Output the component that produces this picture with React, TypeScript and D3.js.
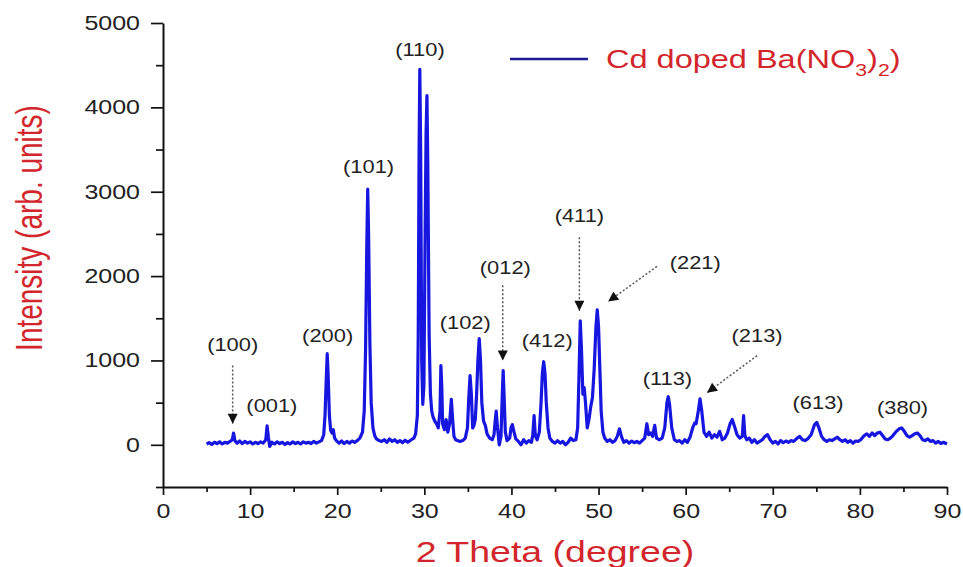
import React, { useEffect, useRef } from 'react';
import * as d3 from 'd3';

// XRD pattern: [2 theta (deg), intensity]
const pattern: [number, number][] = [
  [5.0, 10], [5.3, 25], [5.6, 5], [5.9, 30], [6.2, 15], [6.5, 35], [6.8, 10], [7.1, 30], [7.4, 20], [7.7, 40],
  [7.95, 60], [8.1, 140], [8.25, 50], [8.5, 20], [8.8, 45], [9.1, 15], [9.4, 40], [9.7, 20], [10.0, 35], [10.3, 10],
  [10.6, 30], [10.9, 15], [11.2, 35], [11.5, 20], [11.8, 60], [11.95, 225], [12.1, 90], [12.25, -20], [12.5, 30], [12.8, 10],
  [13.1, 35], [13.4, 15], [13.7, 30], [14.0, 5], [14.3, 25], [14.6, 10], [14.9, 35], [15.2, 15], [15.5, 30], [15.8, 10],
  [16.1, 35], [16.4, 20], [16.7, 30], [17.0, 15], [17.3, 40], [17.6, 20], [17.9, 35], [18.2, 50], [18.45, 120], [18.6, 350],
  [18.75, 800], [18.85, 1080], [18.95, 850], [19.1, 350], [19.25, 170], [19.4, 140], [19.55, 180], [19.7, 80], [19.9, 50], [20.2, 20],
  [20.5, 45], [20.8, 15], [21.1, 40], [21.4, 20], [21.7, 45], [22.0, 30], [22.3, 50], [22.6, 80], [22.9, 150], [23.1, 400],
  [23.25, 1100], [23.4, 2400], [23.5, 3030], [23.6, 2500], [23.75, 1200], [23.9, 500], [24.1, 200], [24.3, 110], [24.5, 70], [24.8, 50],
  [25.1, 40], [25.4, 60], [25.7, 30], [26.0, 70], [26.3, 40], [26.6, 60], [26.9, 30], [27.2, 50], [27.5, 25], [27.8, 55],
  [28.1, 30], [28.5, 60], [28.8, 80], [29.0, 130], [29.2, 350], [29.3, 1300], [29.4, 3500], [29.48, 4450], [29.58, 3500], [29.7, 1000],
  [29.82, 480], [29.95, 700], [30.1, 2600], [30.2, 3700], [30.3, 4140], [30.4, 3300], [30.55, 1300], [30.7, 600], [30.85, 400], [31.0, 330],
  [31.2, 280], [31.4, 250], [31.6, 200], [31.8, 400], [31.9, 940], [32.0, 700], [32.1, 250], [32.3, 180], [32.5, 300], [32.7, 150],
  [32.9, 250], [33.1, 540], [33.25, 300], [33.4, 100], [33.6, 60], [33.8, 50], [34.1, 40], [34.4, 50], [34.7, 80], [34.95, 200],
  [35.1, 550], [35.25, 820], [35.4, 600], [35.55, 200], [35.7, 230], [35.85, 300], [36.0, 600], [36.15, 1000], [36.3, 1260], [36.45, 1000],
  [36.6, 500], [36.8, 280], [37.0, 230], [37.2, 130], [37.5, 80], [37.8, 60], [38.0, 120], [38.15, 300], [38.25, 400], [38.4, 200],
  [38.6, 0], [38.8, 100], [38.95, 600], [39.05, 880], [39.15, 600], [39.3, 150], [39.5, 50], [39.8, 80], [39.95, 200], [40.1, 240],
  [40.3, 150], [40.5, 70], [40.8, 40], [41.1, 0], [41.4, 60], [41.7, 20], [42.0, 50], [42.3, 30], [42.45, 120], [42.6, 345],
  [42.75, 100], [42.95, 60], [43.2, 150], [43.4, 500], [43.55, 850], [43.7, 985], [43.85, 850], [44.0, 500], [44.2, 200], [44.4, 80],
  [44.7, 40], [45.0, 20], [45.3, 50], [45.6, 20], [45.9, 40], [46.2, 0], [46.5, 30], [46.8, 80], [47.1, 50], [47.4, 60],
  [47.6, 200], [47.75, 800], [47.9, 1470], [48.05, 1100], [48.2, 600], [48.35, 680], [48.5, 500], [48.7, 200], [48.9, 300], [49.1, 450],
  [49.3, 560], [49.5, 900], [49.7, 1400], [49.85, 1600], [50.0, 1400], [50.15, 900], [50.3, 400], [50.5, 150], [50.7, 80], [51.0, 40],
  [51.3, 60], [51.6, 30], [51.9, 50], [52.15, 100], [52.4, 190], [52.65, 90], [52.9, 30], [53.2, 50], [53.5, 20], [53.8, 45],
  [54.1, 25], [54.4, 40], [54.7, 20], [55.0, 50], [55.3, 80], [55.55, 250], [55.75, 120], [56.0, 140], [56.2, 100], [56.45, 230],
  [56.65, 80], [57.0, 60], [57.3, 80], [57.6, 200], [57.85, 500], [58.0, 570], [58.15, 480], [58.4, 200], [58.7, 60], [59.0, 40],
  [59.3, 50], [59.6, 20], [59.9, 60], [60.2, 30], [60.5, 90], [60.8, 200], [61.05, 260], [61.2, 250], [61.45, 400], [61.65, 545],
  [61.85, 400], [62.1, 150], [62.4, 100], [62.7, 150], [63.0, 80], [63.3, 120], [63.6, 90], [63.9, 160], [64.2, 60], [64.5, 80],
  [64.8, 140], [65.1, 250], [65.35, 300], [65.6, 220], [65.9, 120], [66.2, 80], [66.5, 100], [66.65, 345], [66.8, 110], [67.0, 60],
  [67.3, 80], [67.6, 30], [67.9, 60], [68.2, 20], [68.5, 40], [68.8, 60], [69.1, 100], [69.4, 120], [69.7, 60], [70.0, 20],
  [70.3, 40], [70.6, 10], [70.9, 50], [71.2, 25], [71.5, 45], [71.8, 30], [72.1, 50], [72.4, 40], [72.8, 80], [73.1, 100],
  [73.4, 60], [73.7, 50], [74.0, 70], [74.4, 120], [74.8, 240], [75.05, 265], [75.3, 200], [75.6, 100], [75.9, 60], [76.2, 40],
  [76.5, 60], [76.8, 50], [77.1, 70], [77.4, 90], [77.7, 60], [78.0, 40], [78.3, 60], [78.6, 30], [78.9, 50], [79.2, 20],
  [79.5, 45], [79.8, 40], [80.1, 60], [80.5, 110], [80.8, 130], [81.1, 100], [81.4, 140], [81.7, 110], [82.0, 140], [82.3, 150],
  [82.6, 110], [82.9, 70], [83.2, 60], [83.5, 80], [83.8, 110], [84.1, 150], [84.5, 190], [84.8, 200], [85.1, 160], [85.4, 110],
  [85.7, 90], [86.0, 110], [86.3, 130], [86.6, 140], [86.9, 110], [87.2, 60], [87.5, 50], [87.8, 70], [88.1, 40], [88.4, 50],
  [88.7, 20], [89.0, 40], [89.3, 15], [89.6, 30], [90.0, 10],
];

// hkl labels, placed in data units
const peakLabels = [
  { hkl: '(100)', x: 8.0, y: 1180 },
  { hkl: '(001)', x: 12.5, y: 460 },
  { hkl: '(200)', x: 18.9, y: 1290 },
  { hkl: '(101)', x: 23.6, y: 3290 },
  { hkl: '(110)', x: 29.5, y: 4680 },
  { hkl: '(102)', x: 34.7, y: 1440 },
  { hkl: '(012)', x: 39.3, y: 2100 },
  { hkl: '(412)', x: 44.1, y: 1235 },
  { hkl: '(411)', x: 47.8, y: 2710 },
  { hkl: '(221)', x: 61.1, y: 2150 },
  { hkl: '(113)', x: 57.9, y: 780 },
  { hkl: '(213)', x: 68.2, y: 1295 },
  { hkl: '(613)', x: 75.2, y: 500 },
  { hkl: '(380)', x: 84.9, y: 440 },
];

const arrows = [
  { from: [8.0, 940], to: [8.0, 250] },
  { from: [39.0, 1890], to: [39.0, 1000] },
  { from: [47.8, 2460], to: [47.8, 1590] },
  { from: [56.7, 2114], to: [51.1, 1698] },
  { from: [68.2, 1057], to: [62.45, 618] },
];

const xTicks = [0, 10, 20, 30, 40, 50, 60, 70, 80, 90];
const xMinorTicks = [5, 15, 25, 35, 45, 55, 65, 75, 85];
const yTicks = [0, 1000, 2000, 3000, 4000, 5000];
const yMinorTicks = [-500, 500, 1500, 2500, 3500, 4500];
const legendParts = [
  { t: 'Cd doped Ba(NO', sub: false },
  { t: '3', sub: true },
  { t: ')', sub: false },
  { t: '2', sub: true },
  { t: ')', sub: false },
];

const FONT = "'Liberation Sans', Arial, sans-serif";
const RED = '#d3262c';

const App = () => {
  const svgRef = useRef<SVGSVGElement>(null);
  const width = 963;
  const height = 567;

  useEffect(() => {
    const svg = d3.select(svgRef.current);
    svg.selectAll('*').remove();

    const margin = { top: 23, right: 16, bottom: 80, left: 163 };

    const x = d3.scaleLinear().domain([0, 90]).range([margin.left, width - margin.right]);
    const y = d3.scaleLinear().domain([-500, 5000]).range([height - margin.bottom, margin.top]);

    // arrow head marker
    svg.append('defs')
      .append('marker')
      .attr('id', 'head')
      .attr('viewBox', '0 0 10 10')
      .attr('refX', 10)
      .attr('refY', 5)
      .attr('markerWidth', 12)
      .attr('markerHeight', 10)
      .attr('markerUnits', 'userSpaceOnUse')
      .attr('orient', 'auto')
      .append('path')
      .attr('d', 'M0,0 L10,5 L0,10 Z')
      .attr('fill', '#111');

    // minor ticks
    svg.append('g')
      .attr('transform', `translate(0,${y(-500)})`)
      .call(d3.axisBottom(x).tickValues(xMinorTicks).tickSize(5).tickSizeOuter(0).tickFormat(() => ''))
      .call(g => g.select('.domain').remove())
      .selectAll('line').attr('stroke', '#111').attr('stroke-width', 1.7);
    svg.append('g')
      .attr('transform', `translate(${x(0)},0)`)
      .call(d3.axisLeft(y).tickValues(yMinorTicks).tickSize(7).tickSizeOuter(0).tickFormat(() => ''))
      .call(g => g.select('.domain').remove())
      .selectAll('line').attr('stroke', '#111').attr('stroke-width', 1.7);

    // x axis
    const xAxis = svg.append('g')
      .attr('transform', `translate(0,${y(-500)})`)
      .call(d3.axisBottom(x).tickValues(xTicks).tickSize(8).tickSizeOuter(0).tickFormat(d3.format('d')));
    xAxis.select('.domain').attr('stroke', '#111').attr('stroke-width', 2);
    xAxis.selectAll('line').attr('stroke', '#111').attr('stroke-width', 1.7);
    xAxis.selectAll('text')
      .attr('y', null).attr('dy', null)
      .attr('transform', 'translate(0,31) scale(1.25,1)')
      .attr('font-family', FONT).attr('font-size', 20).attr('fill', '#222');

    // y axis
    const yAxis = svg.append('g')
      .attr('transform', `translate(${x(0)},0)`)
      .call(d3.axisLeft(y).tickValues(yTicks).tickSize(12).tickSizeOuter(0).tickFormat(d3.format('d')));
    yAxis.select('.domain').attr('stroke', '#111').attr('stroke-width', 2);
    yAxis.selectAll('line').attr('stroke', '#111').attr('stroke-width', 1.7);
    yAxis.selectAll('text')
      .attr('x', null)
      .attr('transform', 'translate(-23,0) scale(1.25,1)')
      .attr('font-family', FONT).attr('font-size', 20).attr('fill', '#222');

    // axis titles
    svg.append('text')
      .attr('transform', `translate(${(x(0) + x(90)) / 2},562) scale(1.25,1)`)
      .attr('text-anchor', 'middle')
      .attr('font-family', FONT).attr('font-size', 30).attr('fill', RED)
      .text('2 Theta (degree)');
    svg.append('text')
      .attr('transform', 'translate(42,228) scale(1.35,1) rotate(-90)')
      .attr('text-anchor', 'middle')
      .attr('font-family', FONT).attr('font-size', 28).attr('fill', RED)
      .text('Intensity (arb. units)');

    // pattern line
    const line = d3.line<[number, number]>().x(d => x(d[0])).y(d => y(d[1]));
    svg.append('path')
      .datum(pattern)
      .attr('d', line)
      .attr('fill', 'none')
      .attr('stroke', '#1616e0')
      .attr('stroke-width', 3.2)
      .attr('stroke-linejoin', 'round');

    // arrows
    svg.selectAll('.arrow')
      .data(arrows)
      .enter()
      .append('line')
      .attr('class', 'arrow')
      .attr('x1', d => x(d.from[0])).attr('y1', d => y(d.from[1]))
      .attr('x2', d => x(d.to[0])).attr('y2', d => y(d.to[1]))
      .attr('stroke', '#555')
      .attr('stroke-width', 1.5)
      .attr('stroke-dasharray', '2,2')
      .attr('marker-end', 'url(#head)');

    // hkl labels
    svg.selectAll('.hkl')
      .data(peakLabels)
      .enter()
      .append('text')
      .attr('class', 'hkl')
      .attr('transform', d => `translate(${x(d.x)},${y(d.y) + 6}) scale(1.25,1)`)
      .attr('text-anchor', 'middle')
      .attr('font-family', FONT).attr('font-size', 17.5).attr('fill', '#222')
      .text(d => d.hkl);

    // legend
    svg.append('line')
      .attr('x1', 510).attr('x2', 588).attr('y1', 59).attr('y2', 59)
      .attr('stroke', '#1c1c94').attr('stroke-width', 2.4);
    const lt = svg.append('text')
      .attr('transform', 'translate(606,68) scale(1.25,1)')
      .attr('font-family', FONT).attr('font-size', 26).attr('fill', RED);
    lt.selectAll('tspan')
      .data(legendParts)
      .enter()
      .append('tspan')
      .attr('font-size', d => (d.sub ? 17 : 26))
      .attr('dy', (d, i) => (d.sub ? 8 : i > 0 ? -8 : 0))
      .text(d => d.t);
  }, []);

  return (
    <svg
      ref={svgRef}
      width={width}
      height={height}
      style={{ position: 'absolute', left: 0, top: 0, background: '#fff' }}
    />
  );
};

export default App;
